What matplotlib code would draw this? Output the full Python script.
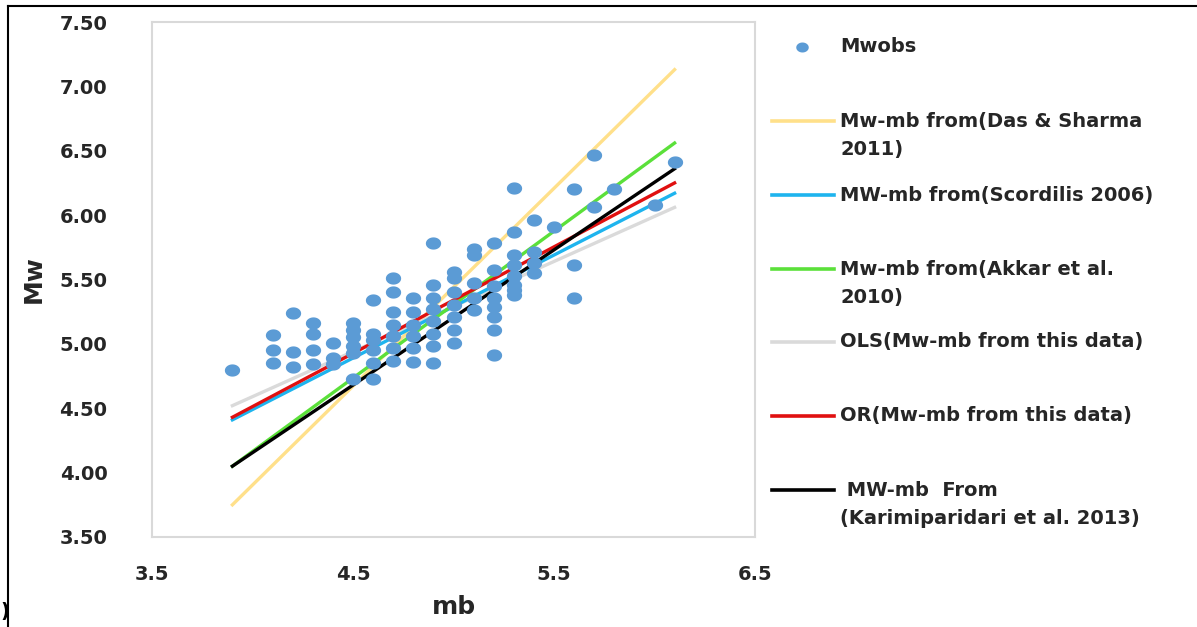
import numpy as np
import matplotlib
matplotlib.use("Agg")
import matplotlib.pyplot as plt
from matplotlib.lines import Line2D
from matplotlib.path import Path

# ---------------- data ----------------
mb_obs = [3.9,
          4.1, 4.1, 4.1,
          4.2, 4.2, 4.2,
          4.3, 4.3, 4.3, 4.3,
          4.4, 4.4, 4.4,
          4.5, 4.5, 4.5, 4.5, 4.5, 4.5,
          4.6, 4.6, 4.6, 4.6, 4.6, 4.6,
          4.7, 4.7, 4.7, 4.7, 4.7, 4.7, 4.7,
          4.8, 4.8, 4.8, 4.8, 4.8, 4.8,
          4.9, 4.9, 4.9, 4.9, 4.9, 4.9, 4.9, 4.9,
          5.0, 5.0, 5.0, 5.0, 5.0, 5.0, 5.0,
          5.1, 5.1, 5.1, 5.1, 5.1,
          5.2, 5.2, 5.2, 5.2, 5.2, 5.2, 5.2, 5.2,
          5.3, 5.3, 5.3, 5.3, 5.3, 5.3, 5.3, 5.3,
          5.4, 5.4, 5.4, 5.4,
          5.5,
          5.6, 5.6, 5.6,
          5.7, 5.7,
          5.8,
          6.0,
          6.1]
mw_obs = [4.80,
          5.07, 4.95, 4.85,
          5.24, 4.94, 4.82,
          5.16, 5.08, 4.95, 4.84,
          5.01, 4.89, 4.84,
          5.16, 5.11, 5.05, 4.98, 4.93, 4.73,
          5.34, 5.08, 5.03, 4.95, 4.85, 4.73,
          5.51, 5.40, 5.25, 5.15, 5.06, 4.97, 4.87,
          5.36, 5.25, 5.15, 5.06, 4.97, 4.86,
          5.78, 5.46, 5.36, 5.27, 5.18, 5.08, 4.98, 4.85,
          5.56, 5.51, 5.40, 5.30, 5.21, 5.11, 5.01,
          5.74, 5.69, 5.47, 5.36, 5.26,
          5.78, 5.57, 5.36, 5.29, 5.21, 5.11, 4.91, 5.45,
          6.21, 5.87, 5.69, 5.61, 5.53, 5.46, 5.38, 5.42,
          5.96, 5.71, 5.63, 5.55,
          5.91,
          6.20, 5.61, 5.36,
          6.47, 6.06,
          6.20,
          6.08,
          6.41]

mb_line = [3.9, 6.1]
mw_das_sharma = [3.75, 7.13]
mw_scordilis = [4.41, 6.17]
mw_akkar = [4.05, 6.56]
mw_ols = [4.52, 6.06]
mw_or = [4.43, 6.25]
mw_karimi = [4.05, 6.36]

x_ticks = [3.5, 4.5, 5.5, 6.5]
y_ticks = [3.5, 4.0, 4.5, 5.0, 5.5, 6.0, 6.5, 7.0, 7.5]

labels = ["Mwobs",
          "Mw-mb from(Das & Sharma\n2011)",
          "MW-mb from(Scordilis 2006)",
          "Mw-mb from(Akkar et al.\n2010)",
          "OLS(Mw-mb from this data)",
          "OR(Mw-mb from this data)",
          " MW-mb  From\n(Karimiparidari et al. 2013)"]

# ---------------- styles ----------------
c_obs = "#5B9BD5"
c_das = "#FFE08A"
c_sco = "#1EB4EE"
c_akk = "#5BE03A"
c_ols = "#DADADA"
c_or = "#E01010"
c_kar = "#000000"
txt_c = "#262626"

plt.rcParams['font.family'] = ['DejaVu Sans']

W, H = 1197, 627
fig = plt.figure(figsize=(W / 100, H / 100), dpi=100)
ax = fig.add_axes([152 / W, 1 - 537 / H, (755 - 152) / W, (537 - 22) / H])

lw = 2.4
ax.plot(mb_line, mw_das_sharma, color=c_das, lw=lw, zorder=2)
ax.plot(mb_line, mw_ols, color=c_ols, lw=lw, zorder=2)
ax.plot(mb_line, mw_scordilis, color=c_sco, lw=lw, zorder=2)
ax.plot(mb_line, mw_akkar, color=c_akk, lw=lw, zorder=2)
ax.plot(mb_line, mw_or, color=c_or, lw=lw, zorder=3)
ax.plot(mb_line, mw_karimi, color=c_kar, lw=lw, zorder=3)

t = np.linspace(0, 2 * np.pi, 60)
ell = Path(np.column_stack([1.25 * np.cos(t), np.sin(t)]))
ax.plot(mb_obs, mw_obs, linestyle="none", marker=ell, markersize=11,
        color=c_obs, markeredgewidth=0, zorder=4)

ax.set_xlim(3.5, 6.5)
ax.set_ylim(3.5, 7.5)
ax.set_xticks(x_ticks)
ax.set_xticklabels([f"{v:.1f}" for v in x_ticks])
ax.set_yticks(y_ticks)
ax.set_yticklabels([f"{v:.2f}" for v in y_ticks])
ax.tick_params(length=0, labelsize=14, labelcolor=txt_c)
ax.tick_params(axis="y", pad=32)
ax.tick_params(axis="x", pad=20)
for lab in ax.get_xticklabels() + ax.get_yticklabels():
    lab.set_fontweight("bold")
for s in ax.spines.values():
    s.set_color("#D9D9D9")
    s.set_linewidth(1.5)

ax.set_xlabel("mb", fontsize=18, fontweight="bold", color=txt_c, labelpad=8)
ax.set_ylabel("Mw", fontsize=18, fontweight="bold", color=txt_c, labelpad=10)

# ---------------- legend (manual, figure pixels) ----------------
def fx(px):
    return px / W

def fy(py):
    return 1 - py / H

handle_y = [47, 121, 195, 269, 342, 416, 490]
text_y = [47, 135.5, 195, 283.5, 342, 416, 504.5]
handle_styles = [None, c_das, c_sco, c_akk, c_ols, c_or, c_kar]
for hy, ty, col, lab in zip(handle_y, text_y, handle_styles, labels):
    if col is None:
        fig.add_artist(Line2D([fx(802)], [fy(hy)], linestyle="none",
                              marker=ell, markersize=9, color=c_obs,
                              markeredgewidth=0))
    else:
        fig.add_artist(Line2D([fx(772), fx(834)], [fy(hy), fy(hy)],
                              color=col, lw=2.6))
    fig.text(fx(840), fy(ty), lab, fontsize=14, fontweight="bold",
             color=txt_c, va="center", ha="left", linespacing=1.55)

# figure frame fragments and cropped panel label
fig.add_artist(Line2D([fx(7.5), fx(7.5)], [0, fy(6)], color="black", lw=1.5))
fig.add_artist(Line2D([fx(7.5), 1], [fy(6), fy(6)], color="black", lw=1.5))
fig.text(fx(0), fy(612), ")", fontsize=14, fontweight="bold",
         color="black", va="center", ha="left")

fig.savefig("out.png", dpi=100)
